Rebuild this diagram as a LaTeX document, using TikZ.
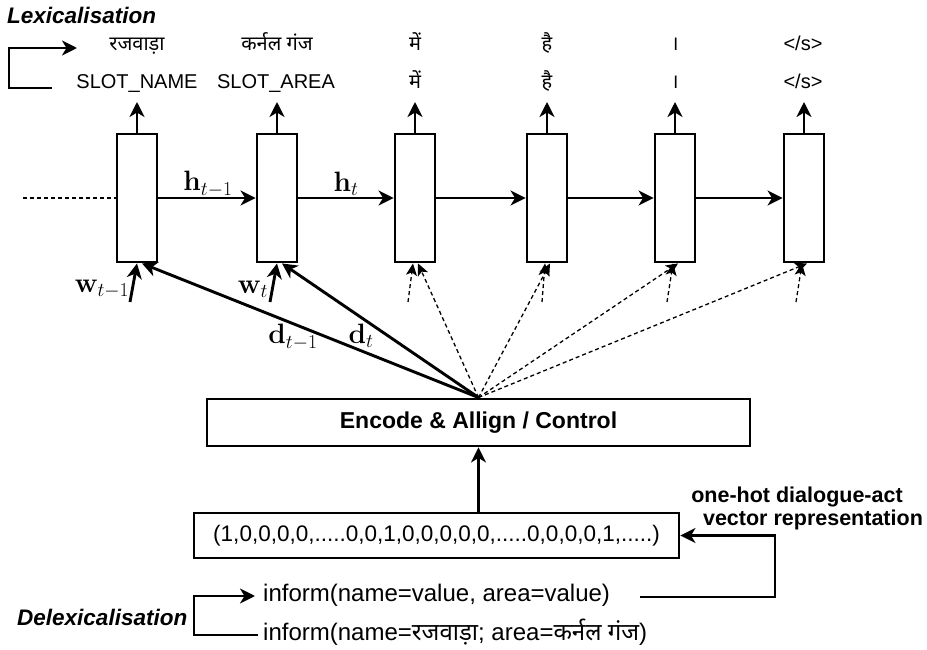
\RequirePackage{fix-cm}
\documentclass[tikz,border=0pt]{standalone}
\usepackage[no-math]{fontspec}
\setmainfont{Liberation Sans}
\newfontfamily\hindi[Script=Devanagari]{Noto Sans}
\usetikzlibrary{arrows.meta}

\begin{document}
\begin{tikzpicture}[x=1pt,y=-1pt,
  cell/.style={draw, line width=2.9pt, minimum width=40pt, minimum height=128pt, inner sep=0pt},
  frame/.style={draw, line width=2.9pt, inner sep=0pt},
  arr/.style={line width=2.9pt, -{Stealth[length=15pt,width=15pt,inset=4.5pt]}},
  darr/.style={line width=1.3pt, dash pattern=on 4pt off 3pt, -{Stealth[length=12pt,width=11pt,inset=3pt]}},
  word/.style={font=\fontsize{20}{24}\selectfont, anchor=base, inner sep=0pt},
  sym/.style={font=\fontsize{28}{32}\selectfont, inner sep=0pt},
  title/.style={font=\fontsize{22.5}{26}\selectfont\bfseries\itshape, anchor=base west, inner sep=0pt},
  act/.style={font=\fontsize{24}{28}\selectfont, anchor=base west, inner sep=0pt},
  note/.style={font=\fontsize{21.5}{26}\selectfont\bfseries, anchor=base, inner sep=0pt}]
\useasboundingbox (0,0) rectangle (927,650);

% recurrent cells
\foreach \i/\x in {1/137,2/277,3/415,4/547,5/675,6/804}
  \node[cell] (c\i) at (\x,198) {};

% hidden-state chain
\coordinate (hin) at (23,198);
\draw[line width=1.3pt, dash pattern=on 4pt off 3pt] (hin) -- (c1.west);
\foreach \i/\j in {1/2,2/3,3/4,4/5,5/6}
  \draw[arr] (c\i) -- (c\j);
\node[sym] (h1) at (208,184) {$\mathbf{h}_{t-1}$};
\node[sym] (h2) at (346,184) {$\mathbf{h}_{t}$};

% generated words: lexicalised row and delexicalised row
\node[word] (t1) at (137,51) {\hindi रजवाड़ा};
\node[word] (t2) at (277,51) {\hindi कर्नल गंज};
\node[word] (t3) at (415,51) {\hindi में};
\node[word] (t4) at (547,51) {\hindi है};
\node[word] (t5) at (675,51) {\hindi ।};
\node[word] (t6) at (803,51) {</s>};
\node[word] (s1) at (137,89) {SLOT\_NAME};
\node[word] (s2) at (276,89) {SLOT\_AREA};
\node[word] (s3) at (415,89) {\hindi में};
\node[word] (s4) at (547,89) {\hindi है};
\node[word] (s5) at (675,89) {\hindi ।};
\node[word] (s6) at (803,89) {</s>};

% outputs of the cells
\foreach \i/\x in {1/137,2/277,3/415,4/547,5/675,6/804}{
  \coordinate (o\i) at (\x,102);
  \draw[arr] (c\i.north) -- (o\i);
}

% lexicalisation step
\node[title] (lex) at (7,24) {Lexicalisation};
\coordinate (lexin) at (52,88);
\coordinate (lexout) at (77,48);
\draw[arr] (lexin) -- ++(-43,0) |- (lexout);

% word inputs
\coordinate (w1) at (130,302);
\coordinate (w2) at (270,302);
\draw[arr] (w1) -- (c1.south);
\draw[arr] (w2) -- (c2.south);
\node[sym] (wl1) at (102,289) {$\mathbf{w}_{t-1}$};
\node[sym] (wl2) at (253,289) {$\mathbf{w}_{t}$};

% encoder / alignment block
\node[frame, minimum width=543pt, minimum height=47pt,
      font=\fontsize{23}{27}\selectfont\bfseries] (enc) at (478.5,422.5) {Encode \& Allign / Control};

% dialogue-act vectors fed to the cells
\draw[arr] (enc.north) -- ([xshift=5pt]c1.south);
\draw[arr] (enc.north) -- ([xshift=5pt]c2.south);
\node[sym] (dl1) at (293,337) {$\mathbf{d}_{t-1}$};
\node[sym] (dl2) at (361,336) {$\mathbf{d}_{t}$};
\foreach \i in {3,4,5,6}
  \draw[darr] (enc.north) -- ([xshift=3pt]c\i.south);
\coordinate (u3) at (408,302);
\coordinate (u4) at (542,302);
\coordinate (u5) at (667,302);
\coordinate (u6) at (796,302);
\foreach \i in {3,4,5,6}
  \draw[darr] (u\i) -- ([xshift=-2pt]c\i.south);

% one-hot vector
\node[frame, minimum width=485pt, minimum height=45pt,
      font=\fontsize{22.5}{27}\selectfont] (vec) at (436.5,535.5)
  {(1,0,0,0,0,.....0,0,1,0,0,0,0,0,.....0,0,0,0,1,.....)};
\draw[arr] (enc.south |- vec.north) -- (enc.south);
\node[note] (oh1) at (797,502) {one-hot dialogue-act};
\node[note] (oh2) at (813,525) {vector representation};

% dialogue acts and delexicalisation
\node[title] (delex) at (17,625) {Delexicalisation};
\node[act] (inf1) at (263,601) {inform(name=value, area=value)};
\node[act] (inf2) at (263,640) {inform(name={\hindi रजवाड़ा}; area={\hindi कर्नल गंज})};
\coordinate (dlin) at (258,635);
\coordinate (dlout) at (255,596);
\draw[arr] (dlin) -- ++(-64,0) |- (dlout);
\coordinate (fb) at (640,597);
\draw[arr] (fb) -- ++(135,0) |- (vec.east);
\end{tikzpicture}
\end{document}
